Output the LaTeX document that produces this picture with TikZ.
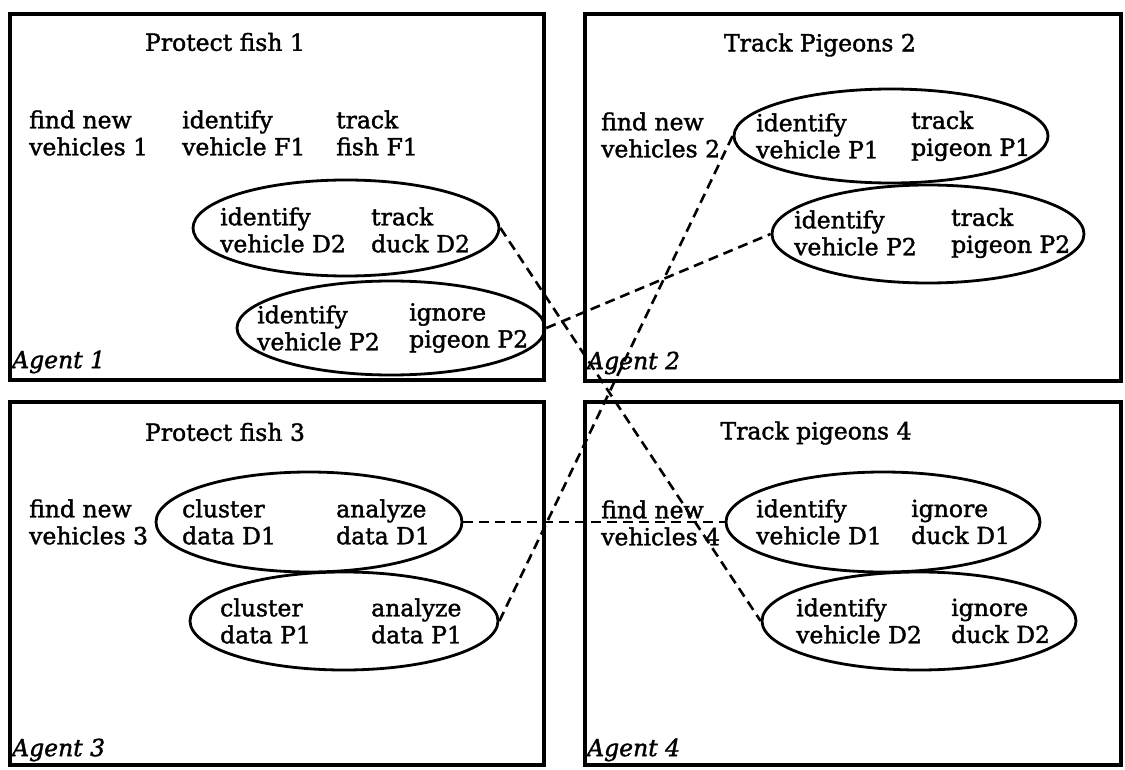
\documentclass[tikz,border=0pt]{standalone}
\usepackage{fontspec}
\setmainfont{DejaVu Serif}[FakeBold=1.6]
\usetikzlibrary{shapes.geometric}
\begin{document}
\begin{tikzpicture}[x=1pt,y=-1pt,
  agentbox/.style={draw,line width=4.2pt},
  txt/.style={inner sep=0pt,anchor=west,align=left,font=\fontsize{23.5}{27}\selectfont},
  ttl/.style={inner sep=0pt,anchor=center,font=\fontsize{23.5}{27}\selectfont},
  agentlbl/.style={inner sep=0pt,anchor=west,font=\fontsize{23.5}{27}\selectfont\itshape},
  goal/.style={draw,ellipse,line width=2.8pt,inner sep=0pt},
  link/.style={line width=2.6pt,dash pattern=on 10pt off 6pt}]
\useasboundingbox (0,0) rectangle (1125,770);
\fill[white] (0,0) rectangle (1125,770);
% boxes
\draw[agentbox] (10,14) rectangle (544,380);
\draw[agentbox] (585,14) rectangle (1121,381);
\draw[agentbox] (10,402) rectangle (544,765);
\draw[agentbox] (585,402) rectangle (1121,765);
% ---- Agent 1
\node[ttl] (t1) at (225,42) {Protect fish 1};
\node[txt] (f1) at (29,133) {find new\\vehicles 1};
\node[txt] (iF1) at (182,133) {identify\\vehicle F1};
\node[txt] (tF1) at (336,133) {track\\fish F1};
\node[goal,minimum width=306pt,minimum height=96pt] (D2a) at (346,228) {};
\node[txt] (iD2a) at (220,230) {identify\\vehicle D2};
\node[txt] (tD2a) at (371,230) {track\\duck D2};
\node[goal,minimum width=308pt,minimum height=94pt] (P2a) at (391,328) {};
\node[txt] (iP2a) at (257,328) {identify\\vehicle P2};
\node[txt] (gP2a) at (409,328) {ignore\\pigeon P2};
\node[agentlbl] (a1) at (12,362) {Agent 1};
% ---- Agent 2
\node[ttl] (t2) at (820,45) {Track Pigeons 2};
\node[txt] (f2) at (601,135) {find new\\vehicles 2};
\node[goal,minimum width=314pt,minimum height=94pt] (P1b) at (891,136) {};
\node[txt] (iP1b) at (756,136) {identify\\vehicle P1};
\node[txt] (tP1b) at (911,136) {track\\pigeon P1};
\node[goal,minimum width=312pt,minimum height=98pt] (P2b) at (928,234) {};
\node[txt] (iP2b) at (794,233) {identify\\vehicle P2};
\node[txt] (tP2b) at (951,233) {track\\pigeon P2};
\node[agentlbl] (a2) at (587,363) {Agent 2};
% ---- Agent 3
\node[ttl] (t3) at (225,432) {Protect fish 3};
\node[txt] (f3) at (29,522) {find new\\vehicles 3};
\node[goal,minimum width=306pt,minimum height=100pt] (D1c) at (309,522) {};
\node[txt] (cD1c) at (182,522) {cluster\\data D1};
\node[txt] (aD1c) at (336,522) {analyze\\data D1};
\node[goal,minimum width=308pt,minimum height=98pt] (P1c) at (344,621) {};
\node[txt] (cP1c) at (220,621) {cluster\\data P1};
\node[txt] (aP1c) at (371,621) {analyze\\data P1};
\node[agentlbl] (a3) at (12,750) {Agent 3};
% ---- Agent 4
\node[ttl] (t4) at (816,433) {Track pigeons 4};
\node[txt] (f4) at (601,523) {find new\\vehicles 4};
\node[goal,minimum width=314pt,minimum height=100pt] (D1d) at (883,522) {};
\node[txt] (iD1d) at (756,522) {identify\\vehicle D1};
\node[txt] (gD1d) at (911,522) {ignore\\duck D1};
\node[goal,minimum width=314pt,minimum height=98pt] (D2d) at (919,621) {};
\node[txt] (iD2d) at (796,621) {identify\\vehicle D2};
\node[txt] (gD2d) at (951,621) {ignore\\duck D2};
\node[agentlbl] (a4) at (587,750) {Agent 4};
% ---- links
\draw[link] (D2a.east) -- (D2d.west);
\draw[link] (P2a.east) -- (P2b.west);
\draw[link] (P1c.east) -- (P1b.west);
\draw[link] (D1c.east) -- (D1d.west);
\end{tikzpicture}
\end{document}
